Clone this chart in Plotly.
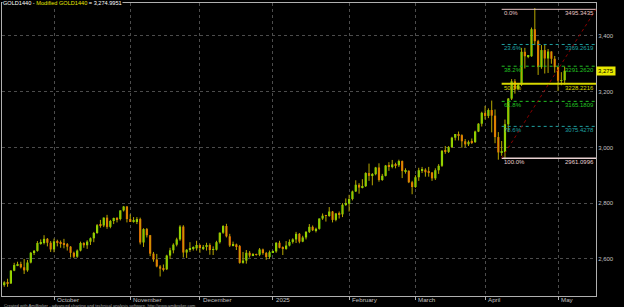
import pandas as pd
import plotly.graph_objects as go

# ---------------- data ----------------
start_date = "2024-09-10"
end_date = "2025-05-05"

opens = [2506,2516,2512,2558,2578,2582,2570,2559,2587,2622,2629,2657,2657,2672,2658,
 2634,2663,2658,2656,2653,2644,2622,2608,2630,2657,2649,2662,2674,2693,2721,2720,2748,2715,2736,2747,2743,2774,2788,
 2743,2736,2736,2743,2659,2707,2685,2619,2598,2573,2565,2563,2612,2631,2651,2670,2716,2623,2633,2638,2638,
 2650,2639,2643,2650,2632,2633,2660,2694,2718,2681,2648,2652,2646,2586,2594,2622,2612,2617,2615,2634,2621,2607,
 2624,2627,2658,2640,2636,2648,2661,2670,2690,2662,2677,2697,2715,2703,2708,2745,2755,2754,2770,2740,2763,2760,2794,
 2798,2815,2842,2866,2856,2861,2908,2898,2904,2928,2883,2898,2935,2933,2939,2936,2951,2915,2916,2875,
 2858,2893,2918,2920,2911,2910,2889,2918,2934,2988,2984,3001,3035,3048,3044,3022,3011,3020,3019,3057,3085,
 3124,3113,3134,3114,3037,2982,2983,3083,3175,3237,3210,3225,3343,3327,3327,3424,3381,3288,3349,3319,3344,3318,
 3288,3239,3241]
highs = [2520,2529,2560,2586,2590,2590,2600,2596,2625,2632,2664,2670,2685,2675,2664,
 2673,2669,2666,2672,2657,2646,2626,2634,2662,2660,2667,2677,2697,2725,2740,2749,2758,2740,2748,2750,2774,2790,2790,
 2760,2750,2750,2748,2710,2711,2686,2625,2618,2578,2580,2615,2640,2656,2676,2721,2721,2635,2660,2645,2665,
 2652,2650,2658,2656,2645,2665,2695,2721,2726,2690,2662,2655,2650,2625,2632,2628,2621,2619,2639,2637,2625,2630,
 2630,2660,2665,2645,2664,2670,2674,2697,2693,2683,2700,2725,2720,2712,2745,2763,2758,2786,2772,2765,2770,2800,2817,
 2830,2845,2882,2872,2886,2911,2942,2908,2930,2943,2905,2937,2947,2955,2945,2956,2953,2925,2918,2880,
 2900,2927,2930,2925,2930,2912,2925,2940,2990,3005,3005,3038,3048,3057,3047,3030,3025,3032,3060,3087,3128,
 3149,3140,3168,3136,3055,3023,3100,3177,3245,3245,3230,3357,3357,3330,3430,3500,3386,3367,3371,3353,3345,3328,
 3290,3270,3290]
lows = [2500,2500,2510,2556,2574,2566,2546,2554,2584,2614,2626,2651,2652,2645,2625,
 2624,2645,2640,2638,2630,2605,2603,2604,2627,2640,2636,2650,2660,2690,2712,2714,2708,2710,2725,2731,2738,2770,2731,
 2733,2730,2725,2652,2643,2677,2610,2590,2570,2537,2555,2560,2600,2620,2645,2665,2605,2603,2625,2630,2630,
 2622,2632,2630,2615,2614,2630,2655,2690,2677,2643,2645,2632,2583,2583,2583,2605,2610,2612,2610,2615,2597,2600,
 2622,2622,2638,2614,2633,2645,2655,2657,2656,2660,2670,2693,2700,2695,2705,2740,2734,2751,2731,2735,2745,2750,2790,
 2770,2810,2840,2834,2853,2858,2880,2864,2900,2877,2880,2896,2916,2925,2925,2930,2890,2906,2872,2832,
 2855,2880,2908,2895,2895,2880,2883,2905,2930,2977,2980,2998,3025,3025,2999,3000,3005,3012,3016,3055,3075,
 3100,3105,3054,3015,2956,2970,2957,3055,3170,3193,3205,3220,3283,3320,3325,3367,3260,3282,3265,3267,3300,3268,
 3202,3223,3225]
closes = [2516,2512,2558,2578,2582,2570,2559,2587,2622,2629,2657,2657,2672,2658,2634,
 2663,2658,2656,2653,2644,2622,2608,2630,2657,2649,2662,2674,2693,2721,2720,2748,2715,2736,2747,2743,2774,2788,2743,
 2736,2736,2743,2659,2707,2685,2619,2598,2573,2565,2563,2612,2631,2651,2670,2716,2623,2633,2638,2638,2650,
 2639,2643,2650,2632,2633,2660,2694,2718,2681,2648,2652,2646,2586,2594,2622,2612,2617,2615,2634,2621,2607,2624,
 2627,2658,2640,2636,2648,2661,2670,2690,2662,2677,2697,2715,2703,2708,2745,2755,2754,2770,2740,2763,2760,2794,2798,
 2815,2842,2866,2856,2861,2908,2898,2904,2928,2883,2898,2935,2933,2939,2936,2951,2915,2916,2875,2858,
 2893,2918,2920,2911,2910,2889,2918,2934,2988,2984,3001,3035,3048,3044,3022,3011,3020,3019,3057,3085,3124,
 3113,3134,3114,3037,2982,2983,3083,3175,3237,3210,3225,3343,3327,3327,3424,3381,3288,3349,3319,3344,3318,3288,
 3239,3241,3275]

month_labels = ["October", "November", "December", "2025", "February", "March", "April", "May"]
y_ticks = [2600, 2800, 3000, 3200, 3400]

fib_pcts = ["0.0%", "23.6%", "38.2%", "50.0%", "61.8%", "78.6%", "100.0%"]
fib_vals = [3495.3435, 3369.2619, 3291.2620, 3228.2216, 3165.1809, 3075.4278, 2961.0996]
fib_start_bar = 150

last_value = "3,274.9951"
last_tag = "3,275"

# ---------------- build ----------------
dates = pd.bdate_range(start_date, end_date)
n = min(len(dates), len(closes))
dates = dates[:n]
idx = list(range(n))

month_pos = []
prev = None
for i, d in enumerate(dates):
    key = (d.year, d.month)
    if prev is not None and key != prev:
        month_pos.append(i)
    prev = key
month_pos = month_pos[:len(month_labels)]

wick_x, wick_y = [], []
for i in idx:
    wick_x += [i, i, None]
    wick_y += [lows[i], highs[i], None]

UP = "#72f800"
DOWN = "#ff5c00"
body_base = [min(opens[i], closes[i]) for i in idx]
body_h = [max(abs(closes[i] - opens[i]), 2.5) for i in idx]
body_col = [UP if closes[i] >= opens[i] else DOWN for i in idx]

fig = go.Figure()
fig.add_trace(go.Scatter(x=wick_x, y=wick_y, mode="lines",
                         line=dict(color="#b8a800", width=1), hoverinfo="skip", showlegend=False))
fig.add_trace(go.Bar(x=idx, y=body_h, base=body_base, width=0.66,
                     marker=dict(color=body_col, line=dict(width=0)), showlegend=False))

x_lo, x_hi = -0.68, 178.45

fib_line_col = ["#e8c4c4", "#1fa0a0", "#22c022", "#d8d800", "#22c022", "#1fa0a0", "#e8d0d0"]
fib_dash = ["solid", "dot", "dot", "solid", "dot", "dot", "solid"]
fib_w = [1, 1, 1, 2, 1, 1, 1.5]
for p, v, c, dsh, w in zip(fib_pcts, fib_vals, fib_line_col, fib_dash, fib_w):
    fig.add_shape(type="line", xref="x", yref="y", x0=fib_start_bar, x1=x_hi, y0=v, y1=v,
                  line=dict(color=c, width=w, dash=dsh))
    fig.add_annotation(x=fib_start_bar, y=v, xref="x", yref="y", text=p, showarrow=False,
                       xanchor="left", yanchor="top", yshift=1,
                       font=dict(size=6, color=c, family="Liberation Sans"))
    fig.add_annotation(x=1, y=v, xref="paper", yref="y", text=f"{v:.4f}", showarrow=False,
                       xanchor="right", yanchor="top", yshift=1,
                       font=dict(size=6, color=c, family="Liberation Sans"))

# diagonal trend line of the fib tool
fig.add_shape(type="line", xref="x", yref="y", x0=fib_start_bar, x1=x_hi,
              y0=fib_vals[-1], y1=fib_vals[0], line=dict(color="#8b0000", width=1, dash="dot"))

# month labels placed just right of their ticks
for pos, lab in zip(month_pos, month_labels):
    fig.add_annotation(x=pos, y=-0.012, xref="x", yref="paper", text=lab, showarrow=False,
                       xanchor="left", yanchor="middle", xshift=1,
                       font=dict(size=6.2, color="#c0c0c0", family="Liberation Sans"))

fig.add_annotation(x=0, y=1, xref="paper", yref="paper", xanchor="left", yanchor="middle",
                   showarrow=False, bgcolor="black", borderpad=0,
                   text=("GOLD1440 - <span style='color:#e8e800'>Modified GOLD1440</span> = " + last_value),
                   font=dict(size=5.6, color="#ffffff", family="Liberation Sans"))
fig.add_annotation(x=0, y=-0.032, xref="paper", yref="paper", xanchor="left", yanchor="middle",
                   showarrow=False,
                   text="Created with AmiBroker - advanced charting and technical analysis software. http://www.amibroker.com",
                   font=dict(size=4.2, color="#a0a0a0", family="Liberation Sans"))
fig.add_annotation(x=1, y=closes[-1], xref="paper", yref="y", xanchor="left", yanchor="middle",
                   showarrow=False, bgcolor="#e8e800", borderpad=1, text=last_tag,
                   font=dict(size=6, color="#000000", family="Liberation Sans"))

grid = "#4c4c4c"
fig.update_layout(
    width=624, height=307, margin=dict(l=2, r=28, t=3, b=11),
    paper_bgcolor="black", plot_bgcolor="black", showlegend=False,
    xaxis=dict(range=[x_lo, x_hi], tickvals=month_pos, ticktext=[""] * len(month_pos),
               showgrid=True, gridcolor=grid, griddash="dot", gridwidth=1,
               showline=True, linecolor="#b0b0b0", linewidth=1, mirror=True,
               ticks="outside", ticklen=3, tickcolor="#b0b0b0",
               zeroline=False, fixedrange=True),
    yaxis=dict(range=[2467, 3518], side="right", tickvals=y_ticks, tickformat=",",
               showgrid=True, gridcolor=grid, griddash="dot", gridwidth=1,
               showline=True, linecolor="#b0b0b0", linewidth=1, mirror=True,
               ticks="", tickfont=dict(size=6, color="#c0c0c0", family="Liberation Sans"),
               zeroline=False, fixedrange=True),
)

fig.write_html("out.html")
